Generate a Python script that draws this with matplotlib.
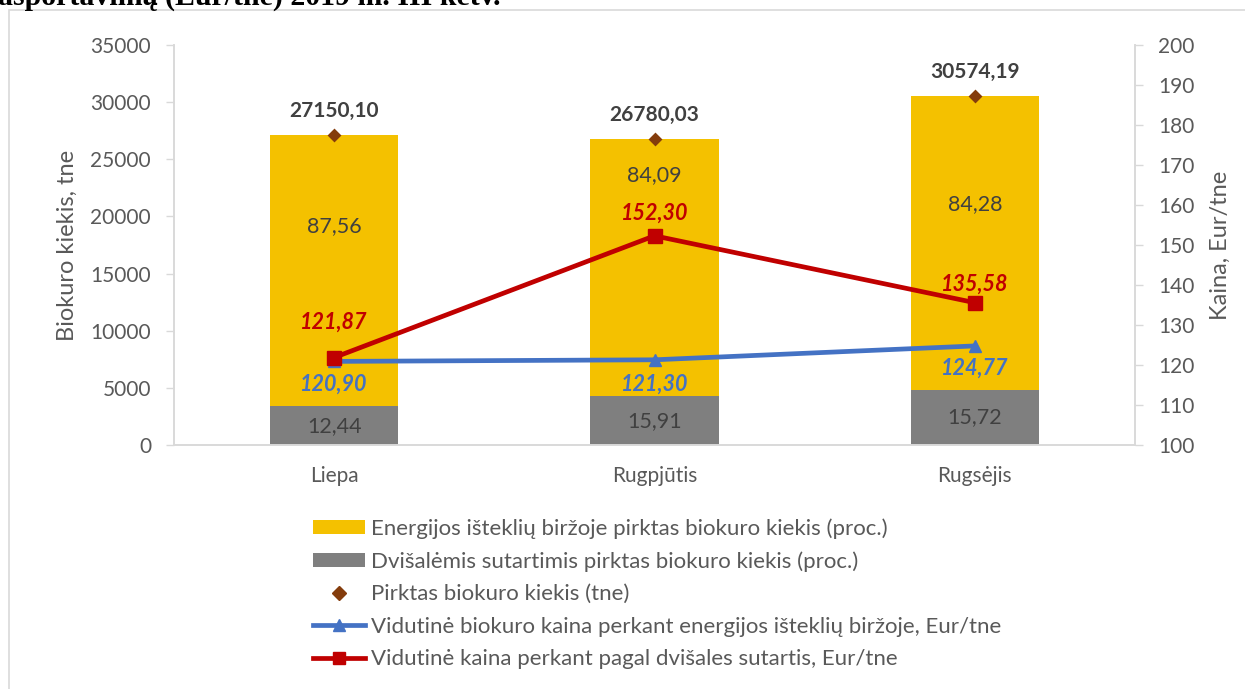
import matplotlib
matplotlib.use("Agg")
import matplotlib.pyplot as plt
from matplotlib.lines import Line2D
from matplotlib.patches import Patch, Rectangle

plt.rcParams['font.family'] = ['Lato', 'DejaVu Sans']

months = ["Liepa", "Rugpjūtis", "Rugsėjis"]
total_tne = [27150.10, 26780.03, 30574.19]
exchange_pct = [87.56, 84.09, 84.28]
bilateral_pct = [12.44, 15.91, 15.72]
price_exchange = [120.90, 121.30, 124.77]
price_bilateral = [121.87, 152.30, 135.58]
left_ticks = [0, 5000, 10000, 15000, 20000, 25000, 30000, 35000]
right_ticks = [100, 110, 120, 130, 140, 150, 160, 170, 180, 190, 200]

# label placement (style): fraction of the yellow segment, pixel offsets
yellow_label_frac = [0.664, 0.86, 0.632]
red_off = [35, 23, 18]
blue_off = [-23, -24, -22]

def fmt(v):
    return f"{v:.2f}".replace(".", ",")

W, H = 1245, 689
fig = plt.figure(figsize=(W / 100, H / 100), dpi=100)

# chart frame
fig.patches.append(Rectangle((9 / W, -0.1), 1.2, (H - 10) / H + 0.1, transform=fig.transFigure,
                             fill=False, edgecolor="#D9D9D9", linewidth=1.2))
# clipped title line from the document above the chart
fig.text(-2 / W, 1 - 5 / H, "asportavimą (Eur/tne) 2019 m. III ketv.",
         family="Liberation Serif", fontweight="bold", fontsize=21.5, va="baseline", ha="left")

L, R, T, B = 174, 1135, 45, 445
ax = fig.add_axes([L / W, 1 - B / H, (R - L) / W, (B - T) / H])
ax2 = ax.twinx()

x = list(range(len(months)))
gray_h = [t * p / 100 for t, p in zip(total_tne, bilateral_pct)]
yel_h = [t * p / 100 for t, p in zip(total_tne, exchange_pct)]
ax.bar(x, gray_h, width=0.4, color="#7F7F7F", zorder=2)
ax.bar(x, yel_h, width=0.4, bottom=gray_h, color="#F4C100", zorder=2)
ax.scatter(x, total_tne, marker="D", s=50, color="#843C0C", zorder=3, linewidths=0)

for i in x:
    ax.text(i, gray_h[i] / 2, fmt(bilateral_pct[i]), ha="center", va="center",
            fontsize=15.5, color="#404040", zorder=4)
    ax.text(i, gray_h[i] + yel_h[i] * yellow_label_frac[i], fmt(exchange_pct[i]), ha="center",
            va="center", fontsize=15.5, color="#404040", zorder=4)
    ax.annotate(fmt(total_tne[i]), (i, total_tne[i]), xytext=(0, 24), textcoords="offset pixels",
                ha="center", va="center", fontsize=15, fontweight="bold", color="#404040")

ax.set_xlim(-0.5, 2.5)
ax.set_ylim(0, 35000)
ax.set_yticks(left_ticks)
ax.set_xticks(x)
ax.set_xticklabels(months)
ax2.set_ylim(100, 200)
ax2.set_yticks(right_ticks)

ax2.plot(x, price_exchange, color="#4472C4", linewidth=3.4, marker="^", markersize=8, zorder=5)
ax2.plot(x, price_bilateral, color="#C00000", linewidth=3.4, marker="s", markersize=10, zorder=6)

for i in x:
    ax2.annotate(fmt(price_bilateral[i]), (i, price_bilateral[i]), xytext=(0, red_off[i]),
                 textcoords="offset pixels", ha="center", va="center", fontsize=15.5,
                 fontweight="bold", fontstyle="italic", color="#C00000")
    ax2.annotate(fmt(price_exchange[i]), (i, price_exchange[i]), xytext=(0, blue_off[i]),
                 textcoords="offset pixels", ha="center", va="center", fontsize=15.5,
                 fontweight="bold", fontstyle="italic", color="#4472C4")

for a in (ax, ax2):
    a.spines["top"].set_visible(False)
    for s in ("left", "right", "bottom"):
        a.spines[s].set_color("#D9D9D9")
        a.spines[s].set_linewidth(1.2)
    a.tick_params(axis="y", colors="#D9D9D9", labelcolor="#595959", labelsize=15, length=6,
                  width=1, pad=10.5)
    a.tick_params(axis="x", length=0, labelcolor="#595959", labelsize=15, pad=15)
ax.patch.set_visible(False)

ax.set_ylabel("Biokuro kiekis, tne", fontsize=17, color="#595959")
ax2.set_ylabel("Kaina, Eur/tne", fontsize=17, color="#595959")
ax.yaxis.set_label_coords((78 - L) / (R - L), 0.5)
ax2.yaxis.set_label_coords((1210 - L) / (R - L), 0.5)

handles = [
    Patch(facecolor="#F4C100"),
    Patch(facecolor="#7F7F7F"),
    Line2D([], [], linestyle="none", marker="D", markersize=7, color="#843C0C"),
    Line2D([], [], color="#4472C4", linewidth=3.4, marker="^", markersize=8),
    Line2D([], [], color="#C00000", linewidth=3.4, marker="s", markersize=9),
]
labels = [
    "Energijos išteklių biržoje pirktas biokuro kiekis (proc.)",
    "Dvišalėmis sutartimis pirktas biokuro kiekis (proc.)",
    "Pirktas biokuro kiekis (tne)",
    "Vidutinė biokuro kaina perkant energijos išteklių biržoje, Eur/tne",
    "Vidutinė kaina perkant pagal dvišales sutartis, Eur/tne",
]
leg = fig.legend(handles, labels, loc="upper left", bbox_to_anchor=(313 / W, 1 - 518 / H),
                 frameon=False, fontsize=16, handlelength=2.35, handleheight=0.6,
                 handletextpad=0.25, labelspacing=0.56, borderpad=0, borderaxespad=0)
for t in leg.get_texts():
    t.set_color("#595959")

fig.savefig("out.png", dpi=100)
